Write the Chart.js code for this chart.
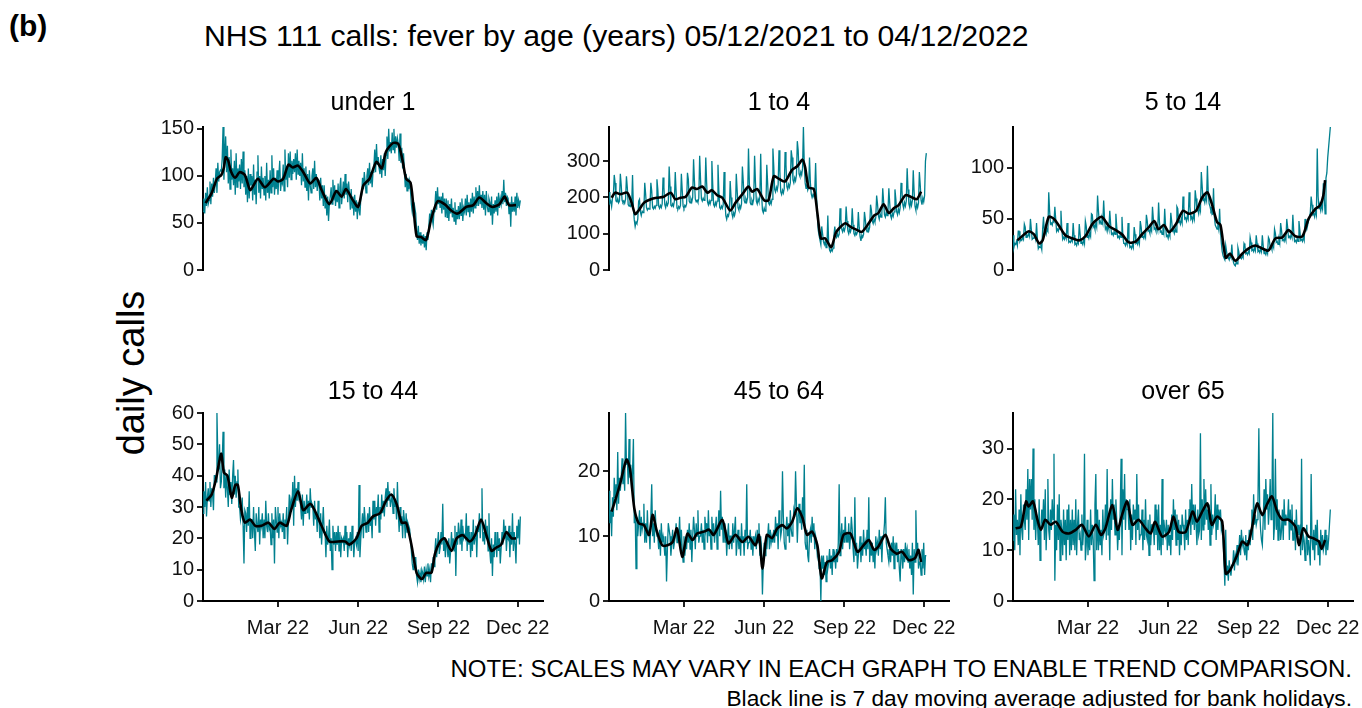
<!DOCTYPE html>
<html>
<head>
<meta charset="utf-8">
<script src="https://cdn.jsdelivr.net/npm/chart.js@4/dist/chart.umd.min.js"></script>
<style>
  html, body { margin: 0; padding: 0; background: #fff; }
  body { width: 1362px; height: 708px; position: relative; overflow: hidden;
         font-family: "Liberation Sans", Arial, sans-serif; color: #000; }
  .txt { position: absolute; white-space: nowrap; line-height: 1; }
  canvas { position: absolute; }
</style>
</head>
<body>
<div class="txt" style="left:9px; top:11px; font-size:30px; font-weight:bold;">(b)</div>
<div class="txt" style="left:204px; top:21px; font-size:30.2px;">NHS 111 calls: fever by age (years) 05/12/2021 to 04/12/2022</div>
<div class="txt" style="left:131px; top:373px; font-size:38px; transform:translate(-50%,-50%) rotate(-90deg);">daily calls</div>
<div class="txt" style="right:10px; top:657px; font-size:24px;">NOTE: SCALES MAY VARY IN EACH GRAPH TO ENABLE TREND COMPARISON.</div>
<div class="txt" style="right:10px; top:687px; font-size:22.7px;">Black line is 7 day moving average adjusted for bank holidays.</div>

<script>
"use strict";

const TEAL = "#00808f";

// x axis: day number counted from 05/12/2021
const TICK_DAYS = [86, 178, 270, 361];
const TICK_LABELS = ["Mar 22", "Jun 22", "Sep 22", "Dec 22"];

// ---- under 1 ----
const under1Daily = [
  62,76,60,82,68,88,70, 74,94,70,92,78,98,82, 92,108,82,114,94,104,106, 105,118,152,96,124,142,104,
  132,92,120,86,128,96,108, 90,116,80,124,88,108,94, 112,86,118,92,126,88,106, 80,100,72,108,76,102,90,
  100,74,112,80,96,70,104, 122,82,100,76,110,86,98, 80,100,74,114,82,96,76, 106,82,122,88,108,80,98,
  86,106,80,100,116,84,95, 92,112,84,128,96,108,88, 124,98,126,96,116,102,118, 104,124,96,128,102,116,100,
  114,90,124,94,108,88,110, 84,102,74,106,90,82,100, 108,86,116,88,102,84,96, 94,74,98,76,90,68,90,
  66,80,58,78,52,72,78, 88,70,96,74,90,68,84, 72,92,66,88,98,70,82, 94,76,102,80,92,72,94,
  82,64,86,66,78,58,80, 62,74,54,72,64,58,76, 80,98,86,104,94,82,100, 108,90,114,92,104,88,104,
  110,128,104,134,112,120,108, 102,122,98,118,106,124,100, 122,142,118,150,126,136,124, 146,128,150,124,142,130,140,
  134,116,145,114,130,108,124, 106,88,102,84,98,86,94, 84,70,62,72,56,66,60, 42,32,47,28,40,26,37,
  28,38,24,36,21,40,32, 46,60,50,64,54,48,62, 68,84,64,88,70,78,66, 78,60,82,64,76,56,76,
  56,74,52,70,60,76,56, 66,52,72,48,64,54,68, 54,72,58,76,52,66,62, 76,58,80,62,72,56,76,
  62,82,60,78,66,88,68, 84,68,90,70,80,66,84, 64,80,58,84,68,62,76, 72,58,78,48,70,60,74,
  62,78,58,82,66,76,70, 84,70,96,72,82,68,78, 76,60,72,46,78,62,72, 62,78,58,82,66,74,68, 74
];
const under1AvgDay = [3,10,16,21,24,26,29,32,37,42,48,54,58,63,71,81,86,92,98,103,109,115,123,130,136,145,153,159,164,172,
  178,184,191,199,205,210,218,224,229,233,238,241,245,250,256,262,269,277,285,292,302,310,317,325,332,340,346,351,359];
const under1AvgVal = [71,82,97,101,109,120,116,105,98,104,101,85,90,97,88,97,94,97,112,109,111,104,92,98,85,70,84,78,86,74,
  67,90,97,115,108,126,135,134,116,97,93,71,36,35,32,55,73,70,63,60,67,69,77,71,67,70,78,69,69];

// ---- 1 to 4 ----
const age1to4Daily = [
  215,185,190,175,198,205,262, 240,190,188,196,185,190,265, 235,192,186,190,184,195,258, 228,180,176,182,175,178,262,
  170,138,120,132,128,140,190, 195,160,150,162,158,165,240, 210,172,165,170,168,175,240, 218,172,168,175,170,178,250,
  222,176,170,178,172,182,255, 228,180,172,186,178,185,285, 230,178,175,182,176,190,270, 215,170,168,175,170,178,265,
  220,176,170,178,174,182,268, 250,190,185,196,188,200,305, 245,195,188,192,186,198,315, 250,196,190,198,192,200,310,
  240,188,180,190,182,192,300, 235,180,175,186,178,190,290, 220,172,168,176,170,180,270, 190,150,140,152,148,160,245,
  200,155,145,158,150,162,265, 220,172,165,178,170,182,285, 245,192,185,196,188,200,335, 240,186,180,192,184,196,315,
  242,190,182,196,188,200,320, 210,165,158,170,162,175,290, 238,185,180,190,182,195,335, 285,222,215,228,220,235,330,
  272,215,208,220,212,225,325, 290,230,222,236,228,240,330, 310,248,240,254,246,262,355, 330,265,258,270,262,280,394,
  290,240,225,236,220,228,310, 240,210,200,208,202,215,295, 205,150,110,95,82,70,120, 100,78,70,80,62,68,150,
  72,55,50,58,52,60,95, 120,95,90,100,92,98,170, 140,112,105,115,108,118,175, 135,108,100,112,105,115,170,
  125,100,95,104,98,105,160, 118,92,80,96,90,98,160, 140,112,105,118,108,118,180, 165,135,128,140,132,145,205,
  182,150,140,155,146,158,225, 188,152,146,160,150,162,225, 184,150,142,156,148,160,222, 196,160,152,168,158,172,240,
  220,180,170,186,176,190,280, 222,182,172,190,178,192,275, 215,176,165,182,172,185,270, 235,192,180,198,188,205,300, 322
];
const age1to4AvgDay = [3,7,13,21,26,30,34,40,48,55,63,71,76,82,88,95,101,107,113,118,124,130,139,145,153,160,164,170,178,183,
  189,195,202,210,216,222,225,229,235,239,243,248,250,255,260,264,271,277,283,290,298,304,309,315,321,327,332,340,346,353,358];
const age1to4AvgVal = [199,213,209,213,185,154,164,185,195,199,202,213,195,199,202,227,223,230,213,220,206,199,164,185,209,230,216,223,192,192,
  258,251,244,276,286,304,283,227,223,157,87,87,80,63,101,115,129,119,112,105,129,150,157,181,157,171,178,206,202,195,216];

// ---- 5 to 14 ----
const age5to14Daily = [
  34,22,26,25,28,24,38, 38,28,30,29,32,30,45, 42,32,34,33,36,33,50, 40,30,31,32,34,30,46,
  30,21,23,22,24,20,40, 52,36,38,35,40,38,76, 58,45,46,44,48,47,62, 50,38,40,38,42,40,58,
  40,30,32,30,34,31,46, 36,27,28,27,30,28,46, 34,25,26,24,28,26,45, 35,26,27,25,30,26,48,
  43,32,34,31,36,33,55, 54,42,44,40,46,42,73, 58,46,48,45,50,46,68, 50,40,42,38,44,40,58,
  45,35,36,34,38,35,55, 42,32,33,31,35,32,52, 34,26,26,24,28,25,46, 30,22,23,21,25,22,42,
  35,26,27,25,30,26,48, 42,32,33,31,35,32,54, 48,38,39,36,41,38,62, 50,40,41,38,43,39,66,
  47,37,38,35,40,36,60, 43,33,34,31,36,33,56, 48,38,39,36,41,37,62, 60,47,48,45,50,46,72,
  62,50,51,48,53,50,76, 62,50,52,48,54,50,78, 70,58,59,55,62,58,96, 82,68,70,66,72,68,102,
  75,65,62,58,60,54,80, 52,44,42,40,45,40,60, 38,26,18,14,12,10,24, 18,12,12,10,14,12,25,
  12,7,5,4,8,6,22, 18,12,12,11,14,12,26, 24,16,17,15,18,16,32, 27,19,20,18,22,19,34,
  26,18,19,17,21,18,34, 24,16,17,15,19,16,32, 30,22,23,20,25,22,40, 36,27,28,25,30,26,46,
  39,29,30,28,32,29,50, 42,32,33,31,35,32,54, 38,28,29,27,31,28,48, 39,29,30,28,32,29,50,
  44,40,44,48,52,56,72, 64,54,55,52,58,54,119, 72,60,62,58,64,60,85, 72,55,90,95,110,120,130, 140
];
const age5to14AvgDay = [5,13,18,24,30,34,41,47,53,60,68,76,83,91,97,102,110,118,125,133,141,148,156,162,167,173,179,187,195,202,
  210,217,223,228,234,238,244,249,255,263,270,278,286,293,301,309,316,324,332,339,347,352,356,358];
const age5to14AvgVal = [29,35,38,35,26,29,52,50,43,34,31,29,33,45,50,52,43,39,35,27,28,35,42,48,40,44,37,45,58,55,
  58,71,76,65,47,44,12,16,9,16,21,24,21,19,31,32,39,33,33,50,60,63,73,88];

// ---- 15 to 44 ----
const age15to44Daily = [
  28,35,30,38,27,33,36, 32,38,30,36,34,29,40, 40,38,60,46,42,50,36, 38,44,54,36,42,33,40,
  36,30,42,34,38,31,40, 45,34,40,33,38,42,30, 30,26,28,33,24,12,29, 28,22,30,24,35,20,26,
  26,20,30,22,16,28,24, 22,30,18,26,24,28,20, 26,20,32,24,22,28,23, 24,18,28,20,26,12,30,
  26,22,30,20,28,24,25, 22,28,20,26,24,30,18, 26,34,28,32,30,38,24, 40,30,36,32,38,33,34,
  30,26,34,24,32,28,29, 34,28,32,26,36,30,31, 30,24,32,26,28,22,32, 26,20,28,18,24,30,22,
  22,14,24,18,20,26,16, 20,10,24,18,22,16,22, 18,24,16,22,14,20,19, 20,16,24,18,22,14,20,
  18,22,16,24,20,14,19, 20,18,22,16,37,14,20, 24,28,20,30,26,22,25, 28,22,30,24,26,20,32,
  26,32,24,30,28,34,22, 30,26,34,28,32,27,33, 36,30,38,32,35,30,32, 34,28,36,30,32,26,38,
  28,22,30,24,27,20,29, 26,20,28,22,25,24,23, 20,16,12,10,14,12,14, 8,6,10,7,9,6,10,
  9,7,11,6,10,8,12, 8,10,6,12,9,14,11, 16,20,14,18,22,15,17, 22,18,31,16,20,14,19,
  18,14,20,12,16,22,17, 20,16,24,8,22,18,25, 22,18,26,16,24,20,21, 20,28,16,24,18,22,14,
  22,16,26,18,20,24,14, 24,22,28,20,26,36,19, 22,18,26,20,24,16,28, 16,12,20,8,18,14,22,
  18,14,22,16,20,12,17, 22,18,26,20,24,16,21, 20,24,14,22,18,28,16, 22,18,12,24,20,26,18, 27
];
const age15to44AvgDay = [4,10,15,19,21,24,28,33,37,40,44,48,54,60,67,75,82,88,96,101,109,115,123,128,136,145,155,163,168,176,
  182,189,195,203,210,216,222,228,233,239,245,251,256,262,266,272,277,285,291,298,306,312,319,325,331,336,342,348,354,359];
const age15to44AvgVal = [32,34,39,45,47,41,40,33,37,37,29,25,26,24,24,25,23,25,24,29,35,29,31,29,24,19,19,19,18,20,
  24,25,27,28,32,34,31,25,25,18,9,7,9,9,15,19,20,16,20,21,19,21,26,21,16,17,18,22,20,20];

// ---- 45 to 64 ----
const age45to64Daily = [
  17,12,14,10,16,13,19, 16,18,14,23,15,19,17, 19,22,18,20,17,29,21, 22,18,25,19,21,17,20,
  25,12,14,5,13,10,12, 14,10,13,11,12,15,9, 12,9,14,10,11,8,13, 18,10,12,9,14,11,10,
  10,8,11,7,12,9,10, 9,7,10,3,8,12,11, 10,7,9,11,8,9,10, 12,9,11,10,13,8,11,
  8,6,10,7,9,8,11, 9,12,8,11,6,10,13, 11,8,12,10,14,9,10, 10,12,9,11,8,13,11,
  12,9,14,10,11,8,13, 10,12,9,11,13,8,11, 14,10,17,11,13,9,12, 9,11,7,10,12,8,10,
  10,8,12,9,11,13,7, 9,11,8,10,7,12,9, 10,7,11,9,18,8,9, 9,11,8,10,7,10,9,
  10,8,11,9,12,7,10, 8,1,6,9,7,10,8, 10,12,8,11,9,10,9, 11,9,13,10,12,8,14,
  12,10,11,20,13,9,8, 11,13,10,12,9,14,11, 10,12,14,13,20,15,9, 13,15,12,14,11,16,12,
  21,9,8,11,7,6,10, 11,9,13,10,12,8,10, 9,7,8,5,6,0,7, 5,7,4,6,3,7,5,
  6,8,5,7,4,8,6, 7,5,8,6,9,18,7, 10,12,8,11,9,13,9, 10,9,12,8,10,13,11,
  8,6,16,7,9,5,7, 8,10,6,9,7,11,8, 9,7,11,8,16,6,9, 7,9,6,8,5,10,8,
  9,7,11,8,10,6,10, 10,12,16,9,8,7,6, 8,6,9,7,10,5,9, 7,9,6,8,5,3,8,
  7,5,8,6,9,7,8, 6,8,5,7,4,9,1, 8,6,14,7,9,5,6, 6,4,8,5,9,4,7, 7
];
const age45to64AvgDay = [3,8,13,20,24,29,34,40,46,50,55,61,67,73,78,84,90,96,101,109,115,120,130,137,145,153,160,168,172,176,
  181,187,193,199,204,210,216,222,227,233,239,244,250,256,264,269,277,285,292,298,304,309,317,323,330,336,344,351,355,358];
const age45to64AvgVal = [13.8,15.9,18.2,21.8,20.5,14.3,12,11.7,10.2,13.3,10.7,8.6,8.6,9.1,11.2,6.8,10.4,9.4,10.4,10.7,
  11,10.2,12.5,8.9,10.2,9.1,9.9,8.6,10.2,5,10.2,9.7,11.2,11.7,11.2,12.2,14.3,12.8,10.2,10.7,
  8.6,3.5,6,6.3,7.6,10.2,10.4,7.6,8.6,9.4,7.9,8.4,10.2,8.1,7.3,7.6,6.3,6.6,7.9,6];

// ---- over 65 ----
const over65Daily = [
  12,17,10,22,13,16,11, 18,9,21,14,12,19,16, 14,22,16,26,12,24,18, 24,16,30,14,20,12,17,
  16,11,20,8,14,18,15, 20,12,22,10,16,24,14, 12,18,14,20,16,29,4, 15,10,19,12,21,8,16,
  14,9,18,11,16,8,18, 12,19,9,16,10,18,11, 16,10,20,9,15,18,12, 13,10,17,11,14,29,8,
  11,16,9,14,10,18,11, 15,12,4,19,25,10,18, 10,16,11,14,9,18,13, 14,19,12,26,13,17,8,
  20,14,24,16,19,13,20, 16,10,14,12,18,28,9, 22,16,25,14,20,18,18, 14,20,10,17,12,19,16,
  18,11,25,14,19,12,13, 13,18,10,16,12,20,13, 12,16,9,17,11,15,15, 15,11,19,13,18,10,19,
  10,15,9,24,11,16,14, 13,16,10,15,11,13,9, 17,12,20,14,18,11,17, 12,16,9,15,11,17,15,
  14,10,18,12,16,11,18, 20,13,23,15,19,14,19, 15,11,18,13,14,33,12, 20,14,24,15,22,16,18,
  14,19,11,23,13,17,15, 16,21,12,19,14,18,16, 18,14,15,12,8,3,14, 5,7,4,8,6,5,7,
  7,10,6,9,8,11,7, 10,13,9,14,11,12,10, 9,13,8,12,10,14,11, 14,18,12,21,15,17,15,
  16,20,34,18,14,12,11, 16,22,14,24,18,21,15, 18,24,16,20,37,12,15, 28,14,20,12,18,16,12,
  14,18,12,20,15,17,16, 16,20,12,18,14,19,12, 12,16,10,18,13,15,13, 14,9,28,10,13,12,8,
  11,15,9,12,10,7,25, 12,10,14,8,15,11,16, 9,12,7,14,10,13,10, 11,14,9,13,10,12,15, 18
];
const over65AvgDay = [3,9,15,18,23,28,32,37,43,49,57,64,72,79,87,95,101,106,114,120,125,131,137,144,152,158,163,171,179,184,
  190,198,206,211,217,223,228,234,240,244,249,257,263,269,274,280,286,291,297,303,309,316,324,328,333,339,345,351,354,358];
const over65AvgVal = [14.3,14.6,19.6,18.6,19.6,16,14,16,15,15.6,13.6,13.3,14,15,12.7,15,13,14.3,18.9,14,
  16.9,19.6,15,16,14.3,13.3,15.6,12.7,13.6,16.6,13.6,13.6,17.6,15.6,17.6,19.2,15,16.6,15.6,5.4,
  6.1,9,11.7,11,14.3,19.2,16.9,18.9,20.6,17.6,16,16,14.6,11,14.3,12.7,12.3,11.7,10.3,12];

// layout of the six facets (plot-area edges in page pixels)
const PANELS = [
  { title: "under 1",  daily: under1Daily,     avgDay: under1AvgDay,     avgVal: under1AvgVal,     step: 50,  left: 203,  row: 0 },
  { title: "1 to 4",   daily: age1to4Daily,    avgDay: age1to4AvgDay,    avgVal: age1to4AvgVal,    step: 100, left: 609,  row: 0 },
  { title: "5 to 14",  daily: age5to14Daily,   avgDay: age5to14AvgDay,   avgVal: age5to14AvgVal,   step: 50,  left: 1013, row: 0 },
  { title: "15 to 44", daily: age15to44Daily,  avgDay: age15to44AvgDay,  avgVal: age15to44AvgVal,  step: 10,  left: 203,  row: 1 },
  { title: "45 to 64", daily: age45to64Daily,  avgDay: age45to64AvgDay,  avgVal: age45to64AvgVal,  step: 10,  left: 609,  row: 1 },
  { title: "over 65",  daily: over65Daily,     avgDay: over65AvgDay,     avgVal: over65AvgVal,     step: 10,  left: 1013, row: 1 },
];
const ROW_TOP = [127, 413];     // top of plot area
const PLOT_H = 188, PLOT_W = 340;
const Y_AXIS_W = 70, X_AXIS_H = 45, PAD = 15, PAD_R = 22;

const tickFont = { family: "'Liberation Sans', Arial, sans-serif", size: 20 };

function makePanel(p) {
  const isTop = p.row === 0;
  const canvas = document.createElement("canvas");
  const w = Y_AXIS_W + PLOT_W + PAD_R;
  const h = PAD + PLOT_H + (isTop ? PAD : X_AXIS_H);
  canvas.width = w; canvas.height = h;
  canvas.style.left = (p.left - Y_AXIS_W) + "px";
  canvas.style.top = (ROW_TOP[p.row] - PAD) + "px";
  canvas.style.width = w + "px"; canvas.style.height = h + "px";
  document.body.appendChild(canvas);

  const title = document.createElement("div");
  title.className = "txt";
  title.textContent = p.title;
  title.style.fontSize = "25px";
  title.style.left = (p.left + PLOT_W / 2) + "px";
  title.style.top = (isTop ? 89 : 378) + "px";
  title.style.transform = "translateX(-50%)";
  document.body.appendChild(title);

  const axisLine = { color: "#000", width: 2 };
  const tickGrid = { drawOnChartArea: false, drawTicks: true, tickLength: 6, tickColor: "#222", lineWidth: 2 };
  const yMax = Math.max(...p.daily);

  new Chart(canvas, {
    type: "line",
    data: {
      datasets: [
        { data: p.avgDay.map((d, i) => ({ x: d, y: p.avgVal[i] })),
          borderColor: "#000", borderWidth: 2.6, pointRadius: 0, tension: 0.25 },
        { data: p.daily.map((v, i) => ({ x: i, y: v })),
          borderColor: TEAL, borderWidth: 1.3, pointRadius: 0, tension: 0 },
      ],
    },
    options: {
      responsive: false, animation: false, events: [],
      layout: { padding: { top: PAD, right: PAD_R, bottom: isTop ? PAD : 0, left: 0 } },
      plugins: { legend: { display: false }, tooltip: { enabled: false } },
      scales: {
        x: {
          type: "linear", min: 0, max: 390, display: !isTop,
          afterBuildTicks: (s) => { s.ticks = TICK_DAYS.map((v) => ({ value: v })); },
          afterFit: (s) => { s.height = X_AXIS_H; },
          ticks: { callback: (v) => TICK_LABELS[TICK_DAYS.indexOf(v)], font: tickFont, color: "#111",
                   padding: 9, maxRotation: 0, autoSkip: false },
          grid: tickGrid, border: axisLine,
        },
        y: {
          min: 0, max: yMax,
          afterBuildTicks: (s) => {
            const t = [];
            for (let v = 0; v <= yMax; v += p.step) t.push({ value: v });
            s.ticks = t;
          },
          afterFit: (s) => { s.width = Y_AXIS_W; },
          ticks: { font: tickFont, color: "#111", padding: 3 },
          grid: tickGrid, border: axisLine,
        },
      },
    },
  });
}

PANELS.forEach(makePanel);
</script>
</body>
</html>
